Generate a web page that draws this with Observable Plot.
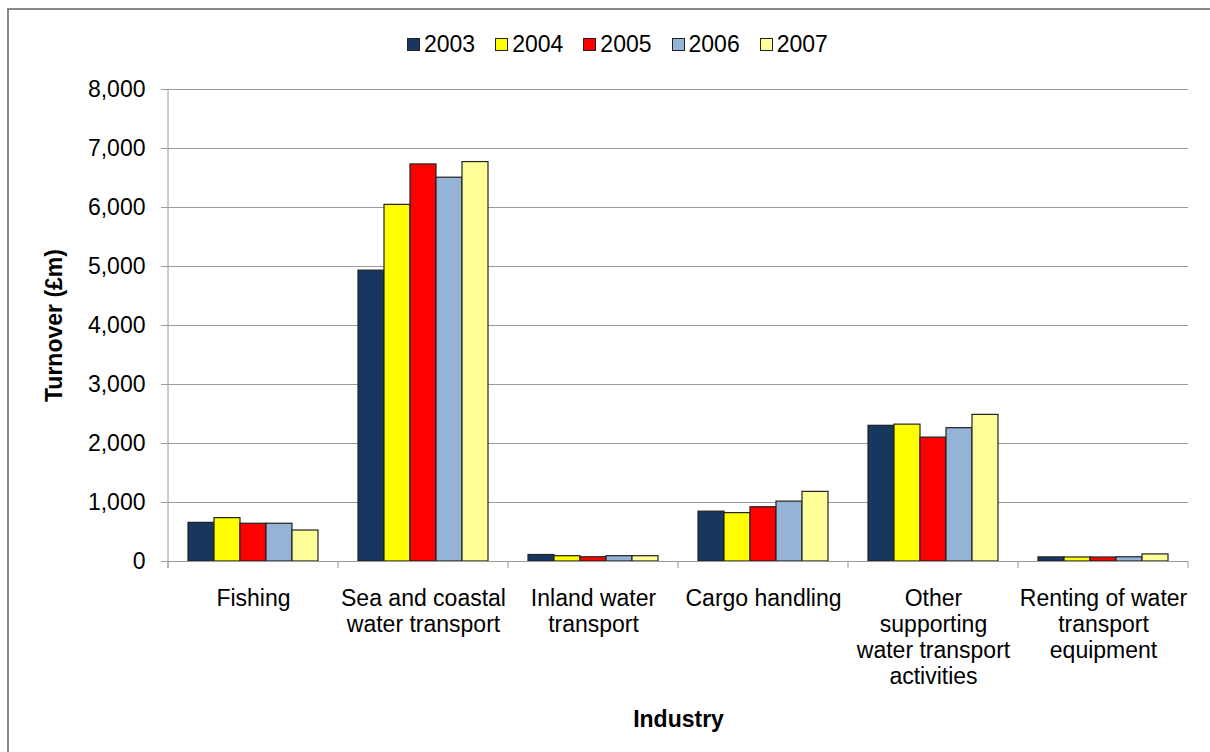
<!DOCTYPE html>
<html><head><meta charset="utf-8">
<script src="https://cdn.jsdelivr.net/npm/d3@7"></script>
<script src="https://cdn.jsdelivr.net/npm/@observablehq/plot@0.6"></script>
<style>
body{margin:0;background:#fff;font-family:"Liberation Sans",Arial,sans-serif;}
#wrap{position:relative;width:1210px;height:752px;overflow:hidden;background:#fff;}
#frame{position:absolute;left:7px;top:8px;width:1300px;height:900px;border-left:2px solid #888;border-top:2px solid #888;}
#legend{position:absolute;left:407px;top:31px;display:flex;gap:20px;font-size:23px;line-height:26px;color:#000;}
.item{display:flex;align-items:center;gap:4px}
.sw{width:11px;height:11px;border:1px solid #222;}
#chart{position:absolute;left:0;top:0}
</style></head><body>
<div id="wrap"><div id="frame"></div><div id="legend"></div><div id="chart"></div></div>
<script>
const industries = ["Fishing", "Sea and coastal\nwater transport", "Inland water\ntransport", "Cargo handling", "Other\nsupporting\nwater transport\nactivities", "Renting of water\ntransport\nequipment"];
const years = ["2003", "2004", "2005", "2006", "2007"];
const colors = ["#17375e", "#ffff00", "#ff0000", "#95b3d7", "#ffff99"];
const v2003 = [655, 4930, 110, 845, 2300, 70];
const v2004 = [735, 6045, 90, 820, 2320, 68];
const v2005 = [640, 6730, 72, 920, 2100, 68];
const v2006 = [640, 6505, 90, 1015, 2260, 72];
const v2007 = [525, 6770, 90, 1180, 2485, 120];
const yTicks = [0, 1000, 2000, 3000, 4000, 5000, 6000, 7000, 8000];

const series = [v2003, v2004, v2005, v2006, v2007];
const data = [];
industries.forEach((ind, i) => series.forEach((s, j) => data.push({industry: ind, year: years[j], value: s[i]})));

// legend
const leg = document.getElementById("legend");
years.forEach((yr, j) => {
  const it = document.createElement("div"); it.className = "item";
  const sw = document.createElement("div"); sw.className = "sw"; sw.style.background = colors[j];
  const t = document.createElement("span"); t.textContent = yr;
  it.appendChild(sw); it.appendChild(t); leg.appendChild(it);
});

const grey = "#9a9a9a";
const fs = 23;
const plot = Plot.plot({
  width: 1210, height: 752,
  marginLeft: 167, marginRight: 22, marginTop: 89, marginBottom: 191,
  style: {fontFamily: "'Liberation Sans', Arial, sans-serif", fontSize: fs + "px", color: "#000", background: "transparent"},
  fx: {domain: industries, paddingInner: 0, paddingOuter: 0, label: null},
  x: {domain: years, paddingInner: 0, paddingOuter: 0.76, axis: null},
  y: {domain: [0, 8000]},
  color: {domain: years, range: colors},
  marks: [
    Plot.gridY(yTicks, {stroke: grey, strokeOpacity: 1}),
    Plot.axisY(yTicks, {tickSize: 7, tickPadding: 16, tickFormat: d3.format(","), label: null, stroke: grey, fontSize: fs}),
    Plot.axisY({ticks: [], label: "Turnover (£m)", labelAnchor: "center", labelArrow: "none", labelOffset: 123, fontWeight: "bold", fontSize: fs}),
    Plot.barY(data, {fx: "industry", x: "year", y: "value", fill: "year", stroke: "#222", strokeWidth: 1.2}),
    Plot.ruleY([0], {stroke: grey}),
    Plot.axisFx({anchor: "bottom", tickSize: 0, tickPadding: 26, lineHeight: 1.13, label: null, fontSize: fs}),
    Plot.axisFx({anchor: "bottom", ticks: [], label: "Industry", labelAnchor: "center", labelArrow: "none", labelOffset: 165, fontWeight: "bold", fontSize: fs})
  ]
});
document.getElementById("chart").appendChild(plot);

// axis line and category boundary ticks from the library's scales
const fx = plot.scale("fx"), y = plot.scale("y");
const svg = d3.select(plot);
const g = svg.append("g").attr("stroke", grey).attr("stroke-width", 1);
const x0 = fx.apply(industries[0]);
g.append("line").attr("x1", x0).attr("x2", x0).attr("y1", y.apply(0) + 7).attr("y2", y.apply(8000));
const bounds = industries.map(d => fx.apply(d)).concat([fx.apply(industries[industries.length - 1]) + fx.bandwidth]);
bounds.forEach(b => g.append("line").attr("x1", b).attr("x2", b).attr("y1", y.apply(0)).attr("y2", y.apply(0) + 7));
</script>
</body></html>
